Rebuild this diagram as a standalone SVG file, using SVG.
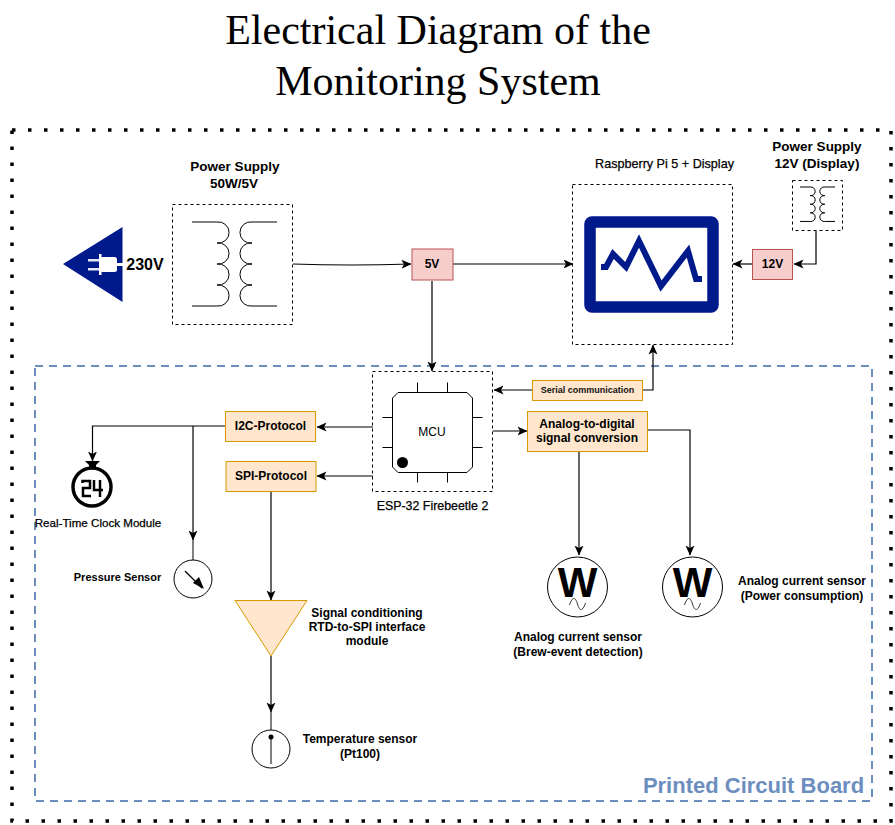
<svg xmlns="http://www.w3.org/2000/svg" width="895" height="825" viewBox="0 0 895 825">
<style>
text{font-family:"Liberation Sans",Arial,sans-serif;fill:#000;text-anchor:middle}
.s14{font-size:13.500px;font-weight:700}
.s12{font-size:12px;font-weight:700}
.reg{stroke:#000;stroke-width:.25}
.title{font-family:"Liberation Serif","Times New Roman",serif;font-size:42px}
.dash{fill:none;stroke:#000;stroke-width:1;stroke-dasharray:3 3}
.thin{fill:none;stroke:#000;stroke-width:1}
.org{fill:#ffe6cc;stroke:#d79b00;stroke-width:1}
.red{fill:#f8cecc;stroke:#b85450;stroke-width:1}
.navy{fill:#001a8c}
.conn{fill:none;stroke:#000;stroke-width:1.200;marker-end:url(#arr)}
.coilp{fill:none;stroke:#000;stroke-width:1;vector-effect:non-scaling-stroke}
</style>
<defs>
<marker id="arr" viewBox="0 0 10 10" refX="9.500" refY="5" markerWidth="10" markerHeight="10" markerUnits="userSpaceOnUse" orient="auto">
<path d="M0 0.500L10 5L0 9.500L2.500 5Z" fill="#000"/>
</marker>
<path id="coil" class="coilp" d="M0 0H25A10.600 10.600 0 1 1 25 21A10.600 10.600 0 1 1 25 42A10.600 10.600 0 1 1 25 63A10.600 10.600 0 1 1 25 84H0"/>
<g id="watt">
<circle cx="0" cy="0" r="30" fill="#fff" stroke="#000" stroke-width="1"/>
<text x="0" y="10" font-size="42" style="font-weight:700">W</text>
<path d="M-8 18C-5 9 -2 10 0 17C2 24 5 25 8 16" fill="none" stroke="#000" stroke-width="0.800"/>
</g>
</defs>

<g id="titleText"><text class="title" x="438" y="44">Electrical Diagram of the</text><text class="title" x="438" y="95">Monitoring System</text></g>

<g id="enclosure"><rect x="12" y="130" width="879" height="691" fill="none" stroke="#000" stroke-width="3.500" stroke-dasharray="3.500 12.500"/></g>
<g id="pcb"><rect x="35" y="366" width="837" height="435" fill="none" stroke="#6c8ebf" stroke-width="2" stroke-dasharray="8 6"/>
<text x="753.500" y="793" font-size="22" style="fill:#6c8ebf;font-weight:700">Printed Circuit Board</text></g>

<g id="connectors">
<path class="conn" d="M293 264Q350 266 411 264"/>
<path class="conn" d="M453 264H573"/>
<path class="conn" d="M432 281V371"/>
<path class="conn" d="M752 264H733"/>
<path class="conn" d="M816 231V264H794"/>
<path class="conn" d="M373 427H317"/>
<path class="conn" d="M373 476H317"/>
<path class="conn" d="M225 426H92.500V461"/>
<path class="conn" d="M193 426V540"/>
<path class="conn" d="M271 491V600"/>
<path class="conn" d="M271 656V712"/>
<path class="thin" d="M271 712V730"/>
<path class="thin" d="M193 540V560"/>
<path class="conn" d="M532 390H494"/>
<path class="conn" d="M638 390H653V345"/>
<path class="conn" d="M493 431H527"/>
<path class="conn" d="M579 452V555"/>
<path class="conn" d="M648 430H690V555"/>
</g>

<g id="plug">
<path class="navy" d="M63 264L122.500 227V302Z"/>
<rect x="99" y="254" width="2.500" height="21" fill="#fff"/>
<rect x="100" y="257" width="17" height="15" rx="2.500" fill="#fff"/>
<rect x="116" y="263" width="9" height="3" fill="#fff"/>
<rect x="88" y="259" width="11" height="2.500" fill="#e4e7f5"/><rect x="88" y="268" width="11" height="2.500" fill="#e4e7f5"/>
<text x="145" y="270" font-size="16" style="font-weight:700">230V</text>
</g>

<g id="psu5v">
<text class="s14" x="235" y="171">Power Supply</text><text class="s14" x="234" y="188">50W/5V</text>
<rect class="dash" x="172.500" y="204.500" width="120" height="120"/>
<use href="#coil" x="192" y="222"/>
<use href="#coil" transform="translate(277 222) scale(-1 1)"/>
</g>

<g id="v5"><rect class="red" x="412" y="249" width="41" height="31"/><text class="s12" x="432" y="268">5V</text></g>

<g id="raspi">
<text class="reg" x="664.500" y="168" font-size="12.600">Raspberry Pi 5 + Display</text>
<rect class="dash" x="572.500" y="184.500" width="160" height="160"/>
<rect x="590" y="222" width="123" height="85" fill="#fff" stroke="#001a8c" stroke-width="11.500" rx="2" stroke-linejoin="round"/>
<path d="M601 267H606L613 254L626 267L639 241L661 286L688 251L696 279H702" fill="none" stroke="#001a8c" stroke-width="6"/>
</g>

<g id="psu12v">
<text class="s14" x="817" y="151">Power Supply</text><text class="s14" x="817" y="168">12V (Display)</text>
<rect class="dash" x="792.500" y="180.500" width="50" height="50"/>
<use href="#coil" transform="translate(800 187) scale(.41)"/>
<use href="#coil" transform="translate(835 187) scale(-.41 .41)"/>
</g>

<g id="v12"><rect class="red" x="752.500" y="249.500" width="40" height="30"/><text class="s12" x="772.500" y="268">12V</text></g>

<g id="mcu">
<rect class="dash" x="372.500" y="371.500" width="120" height="120"/>
<path d="M398 392.500H467L472.500 398V467L467 472.500H398L392.500 467V398Z" fill="#fff" stroke="#000" stroke-width="1"/>
<path class="thin" d="M417.500 382.500V392M447.500 382.500V392M417.500 473V482.500M447.500 473V482.500M382.500 417.500H392M382.500 447.500H392M473 417.500H482.500M473 447.500H482.500"/>
<circle cx="402.500" cy="462.500" r="5.500" fill="#000"/>
<text x="432" y="436" font-size="12">MCU</text>
<text class="reg" x="432.500" y="510" font-size="12.400">ESP-32 Firebeetle 2</text>
</g>

<g id="serial"><rect class="org" x="532.500" y="380.500" width="110" height="20"/><text x="587.500" y="393" font-size="9" style="font-weight:700;fill:#111">Serial communication</text></g>
<g id="adc"><rect class="org" x="527.500" y="411.500" width="120" height="40"/><text class="s12" x="587" y="428">Analog-to-digital</text><text class="s12" x="587" y="442">signal conversion</text></g>
<g id="i2c"><rect class="org" x="225.500" y="411.500" width="90" height="30"/><text class="s12" x="270.500" y="430">I2C-Protocol</text></g>
<g id="spi"><rect class="org" x="226" y="461.500" width="90" height="30"/><text class="s12" x="271" y="480">SPI-Protocol</text></g>

<g id="rtc">
<path d="M85 461H100L96 465V469H89V465Z" fill="#000"/>
<circle cx="92" cy="487" r="19" fill="#fff" stroke="#000" stroke-width="3.500"/>
<path d="M82.500 483V481H90V488H83V496H91M94 480V490H103M100 480V497" fill="none" stroke="#000" stroke-width="2.500"/>
<text class="reg" x="98" y="527" font-size="11.600">Real-Time Clock Module</text>
</g>

<g id="pressure">
<circle cx="193" cy="579" r="19" fill="#fff" stroke="#000" stroke-width="1"/>
<path d="M185 571L202 588" stroke="#000" stroke-width="1.300"/>
<path d="M204 589L193 583L199 577Z" fill="#000"/>
<text x="117.500" y="581" font-size="11" style="font-weight:700">Pressure Sensor</text>
</g>

<g id="conditioner">
<path class="org" d="M235 600.500H307L271 656Z"/>
<text class="s12" x="367" y="617">Signal conditioning</text><text class="s12" x="367" y="631">RTD-to-SPI interface</text><text class="s12" x="367" y="645">module</text>
</g>

<g id="pt100">
<circle cx="271" cy="749" r="19" fill="#fff" stroke="#000" stroke-width="1"/>
<path d="M271 737V764" stroke="#000" stroke-width="1"/>
<circle cx="271" cy="737" r="2.500" fill="#000"/>
<text class="s12" x="360" y="743">Temperature sensor</text><text class="s12" x="360" y="758">(Pt100)</text>
</g>

<g id="watt1"><use href="#watt" x="577.500" y="587"/><text class="s12" x="578" y="641">Analog current sensor</text><text class="s12" x="578" y="656">(Brew-event detection)</text></g>
<g id="watt2"><use href="#watt" x="692.500" y="587"/><text class="s12" x="802" y="585">Analog current sensor</text><text class="s12" x="802" y="600">(Power consumption)</text></g>
</svg>
